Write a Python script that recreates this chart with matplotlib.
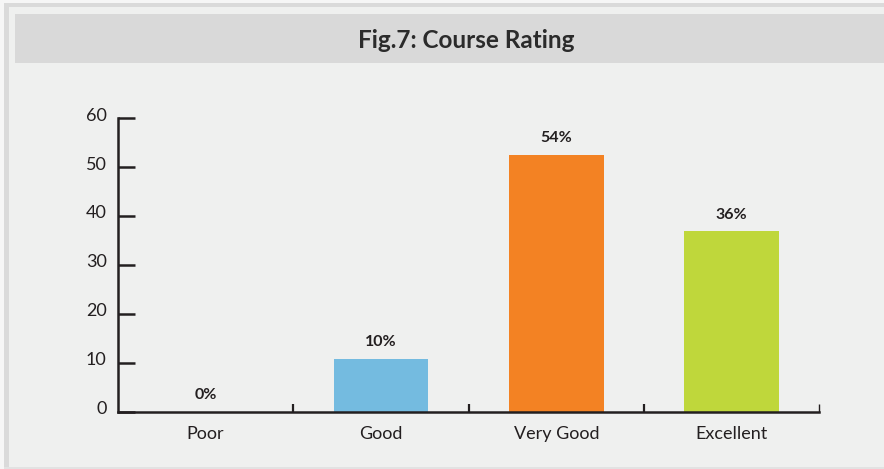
import matplotlib.pyplot as plt
from matplotlib.patches import Rectangle
from matplotlib.transforms import ScaledTranslation

categories = ['Poor', 'Good', 'Very Good', 'Excellent']
values = [0, 10.8, 52.5, 36.9]
pct_labels = ['0%', '10%', '54%', '36%']
bar_colors = ['#74bbe0', '#74bbe0', '#f38223', '#bfd73b']
y_ticks = [0, 10, 20, 30, 40, 50, 60]

W, H = 884, 469
dark = '#231f20'

plt.rcParams['font.family'] = ['Lato', 'DejaVu Sans']

fig = plt.figure(figsize=(W / 100, H / 100), dpi=100)
fig.patch.set_facecolor('#eff0ef')


def px_rect(x0, y0, x1, y1, color):
    # rectangle given in pixel coords from the top-left corner
    fig.add_artist(Rectangle((x0 / W, 1 - y1 / H), (x1 - x0) / W, (y1 - y0) / H,
                             transform=fig.transFigure, facecolor=color,
                             edgecolor='none', zorder=0))


# frame around the panel
px_rect(0, 0, W, 3, '#f6f6f6')
px_rect(0, 0, 4, H, '#f6f6f6')
px_rect(4, 3, W, 7, '#dadada')
px_rect(4, 3, 9, 467, '#dadada')
px_rect(4, 467, W, H, '#e2e2e2')
# title bar
px_rect(15, 14, W, 63, '#d9d9d9')
fig.text(466 / W, 1 - 41 / H, 'Fig.7: Course Rating', ha='center', va='center',
         fontsize=17.5, fontweight='bold', color='#2b2b2b')

ax = fig.add_axes([117.7 / W, 1 - 411.7 / H, (819.5 - 117.7) / W, (411.7 - 118.3) / H])
ax.set_facecolor('none')

x = list(range(len(categories)))
bars = ax.bar(x, values, width=0.54, color=bar_colors, zorder=2)
ax.bar_label(bars, labels=pct_labels, padding=7, fontsize=11.5,
             fontweight='bold', color=dark)

ax.set_xlim(-0.5, len(categories) - 0.5)
ax.set_ylim(0, 60)
ax.set_yticks(y_ticks)
ax.set_xticks(x)
ax.set_xticklabels(categories)

for side in ['top', 'right']:
    ax.spines[side].set_visible(False)
for side in ['left', 'bottom']:
    ax.spines[side].set_color(dark)
    ax.spines[side].set_linewidth(1.8)

ax.tick_params(axis='y', direction='in', length=12, width=1.8, color=dark,
               labelsize=13, labelcolor=dark, pad=8)
ax.tick_params(axis='x', which='major', length=0, labelsize=13,
               labelcolor=dark, pad=10)

# y labels sit a little above their ticks in the original
for lbl in ax.get_yticklabels():
    lbl.set_transform(lbl.get_transform() + ScaledTranslation(0, 3 / 72, fig.dpi_scale_trans))

# small separators between categories on the x axis
ax.set_xticks([i + 0.5 for i in x], minor=True)
ax.tick_params(axis='x', which='minor', direction='in', length=6, width=1.6,
               color=dark)
ax.xaxis.get_minor_ticks()[-1].tick1line.set_color('#b0b0b0')
ax.xaxis.get_minor_ticks()[-1].tick1line.set_markeredgewidth(1.0)

fig.savefig('out.png', dpi=100, facecolor=fig.get_facecolor())
